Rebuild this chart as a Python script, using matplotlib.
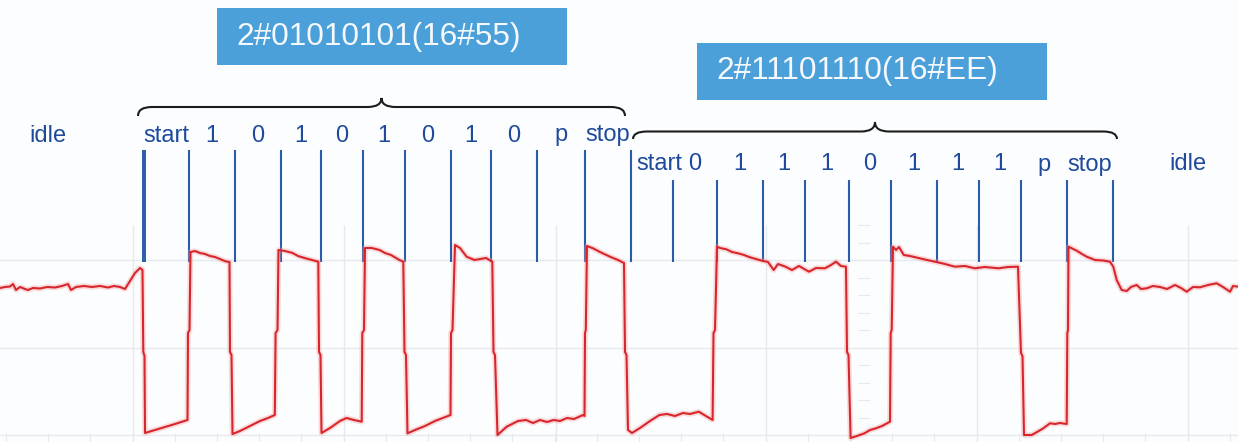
import numpy as np
import matplotlib.pyplot as plt
from matplotlib.patches import Rectangle, PathPatch
from matplotlib.path import Path

plt.rcParams['font.family'] = ['Liberation Sans', 'DejaVu Sans']

# two bytes on the serial line, LSB first, even parity
frame_bytes = [0x55, 0xEE]
frame1_labels = ['start', '1', '0', '1', '0', '1', '0', '1', '0', 'p', 'stop']
frame2_labels = ['start', '0', '1', '1', '1', '0', '1', '1', '1', 'p', 'stop']

# bit boundaries (time axis = screen units)
frame1_edges = [143.5, 188.6, 234.9, 281.1, 320.7, 363.0, 404.9, 450.8,
                490.7, 537.0, 585.2, 630.6]
frame2_edges = [630.6, 672.8, 717.0, 762.7, 804.9, 848.6, 890.8, 936.5,
                978.7, 1020.9, 1067.0, 1112.7]

# scope trace, (time, level) pairs
idle_before = [(0, 288), (5, 287), (10, 286.5), (13, 284), (16, 290), (20, 287),
               (25, 289), (28, 290), (33, 288), (40, 288.5), (47, 287), (55, 287.5),
               (62, 286), (68, 284), (71, 290), (76, 287), (84, 286), (92, 287),
               (100, 286), (108, 287.5), (114, 286), (120, 287), (125, 289),
               (130, 281), (135, 273), (140, 268), (142.5, 270)]
frame1_trace = [(143.3, 352), (144.5, 356), (145, 433), (155, 430), (165, 427),
                (175, 424), (187.5, 420), (188, 333), (189.5, 330), (190.5, 252),
                (195, 251), (200, 253), (205, 254), (210, 256), (215, 257), (220, 259),
                (226, 261.5), (229.5, 262), (230, 352), (231.5, 355), (232.5, 434),
                (240, 431), (250, 426), (260, 421), (268, 418), (274.8, 415),
                (275.6, 333), (277.5, 330), (278.5, 250), (285, 251), (292.6, 253),
                (298, 256), (304.5, 258), (312, 260), (318.3, 261.7), (319, 352),
                (320.5, 355), (321.5, 433), (330, 428), (340, 421), (346.5, 418),
                (354, 420), (361.7, 421.7), (362.3, 333), (364, 330), (365, 248),
                (371.7, 248), (379.6, 250), (385, 253), (391, 255), (399.4, 260),
                (403.3, 261.7), (404.5, 352), (406, 355), (407.5, 433.3), (415, 430),
                (425, 426), (435, 421), (446.7, 416.5), (450.5, 415), (451, 333),
                (452.5, 330), (455, 245), (460, 248), (466.6, 256.7), (474.5, 260),
                (480, 259), (486, 258), (492.3, 261.7), (493.5, 352), (495, 355),
                (497.5, 435), (506.7, 426.7), (512, 424), (518, 421), (526, 420),
                (533, 423), (540, 420), (547, 422), (553.6, 420), (560, 421),
                (567, 418), (574, 419), (583, 415), (584.5, 416), (585, 333),
                (585.8, 330), (587, 246), (593, 248.3), (600, 252), (610, 256.7),
                (618, 260), (624, 263)]
frame2_trace = [(625, 352), (626.5, 355), (628, 430), (632, 433), (640, 428),
                (650, 421), (659.4, 415), (667, 414), (675, 416), (683, 413),
                (690, 414), (698.8, 411.7), (706, 416), (712.6, 420), (713.5, 333),
                (715, 330), (717, 246.7), (720, 248), (726.4, 249.3), (732, 252),
                (738, 253.3), (744, 255), (750, 257.3), (756, 259), (762, 260.7),
                (768, 262), (773.7, 270), (778, 264), (785.5, 266.7), (792, 270),
                (799, 266), (809, 271.7), (816, 268), (825, 268.3), (831, 265),
                (836, 261.7), (841, 266), (846, 266.7), (847, 352), (848.5, 355),
                (850.6, 438), (857, 436), (864.4, 433.3), (870, 430), (876, 428.3),
                (882, 426), (890, 421.7), (890.7, 333), (891.7, 330), (893, 246.7),
                (896, 250), (899, 247), (903.8, 255), (910, 256), (919.6, 258.3),
                (927, 260), (935, 261.7), (945, 264), (955, 266.7), (965, 266),
                (974.8, 268.3), (985, 267), (998.4, 268.3), (1008, 267), (1018, 266.7),
                (1021, 353), (1022.5, 356), (1024, 435), (1031.7, 435), (1037, 432),
                (1043.3, 428.3), (1050, 423.3), (1055, 424), (1060, 423), (1066.7, 424),
                (1067.3, 333), (1068, 330), (1068.5, 246.7), (1076.7, 250.7),
                (1082, 254), (1086.7, 256.7), (1095, 260), (1103, 260.5), (1110, 261.7)]
idle_after = [(1113.3, 266.7), (1116.7, 280), (1121.7, 290), (1126.7, 291),
              (1131, 287), (1136.7, 285), (1141, 289), (1146.7, 288.3), (1153, 286),
              (1160, 287), (1167, 289), (1175, 285), (1181, 288), (1186.7, 291.7),
              (1193, 287), (1200, 287.3), (1208, 285), (1216.7, 283.3), (1223, 287),
              (1230, 291.7), (1233, 286), (1238, 286.7)]

W, H = 1238, 442
fig = plt.figure(figsize=(W / 100, H / 100), dpi=100, facecolor='#fcfdff')
ax = fig.add_axes([0, 0, 1, 1])
ax.set_xlim(0, W)
ax.set_ylim(H, 0)
ax.axis('off')

# scope grid (lower part of the screen only)
grid_col = '#e6e9ee'
ax.hlines([260, 347.5, 435], 0, W, color=grid_col, lw=1, zorder=0)
ax.vlines([132.5, 344, 555.5, 766, 977, 1188], 225, H, color=grid_col, lw=1, zorder=0)
ax.vlines(np.arange(132.5 - 3 * 42.2, W, 42.2), 433, H, color=grid_col, lw=0.8, zorder=0)
ax.hlines(np.arange(225, 436, 17.5), 858, 870, color=grid_col, lw=0.8, zorder=0)

# bit boundary markers
line_col = '#2b5cab'
ax.vlines(frame1_edges[1:], 150, 262, color=line_col, lw=1.5, zorder=1)
ax.vlines(frame1_edges[0], 150, 262, color=line_col, lw=2.8, zorder=1)
ax.vlines(frame2_edges[1:], 180, 262, color=line_col, lw=1.5, zorder=1)

# the trace itself
trace = np.array(idle_before + frame1_trace + frame2_trace + idle_after)
ax.plot(trace[:, 0], trace[:, 1], color='#f19a9a', lw=4, alpha=0.35,
        solid_joinstyle='round', zorder=2)
ax.plot(trace[:, 0], trace[:, 1], color='#d8262c', lw=1.5,
        solid_joinstyle='round', zorder=3)

# bit names
text_col = '#1f4a9c'
for edges, labels, base in [(frame1_edges, frame1_labels, 141.5),
                            (frame2_edges, frame2_labels, 170.5)]:
    for i, lab in enumerate(labels):
        xc = (edges[i] + edges[i + 1]) / 2
        if i == 0 and edges[0] > 600:
            # second start label sits just right of the boundary line
            ax.text(edges[0] + 6, base, lab, ha='left', va='baseline',
                    fontsize=17, color=text_col, zorder=4)
            continue
        ax.text(xc, base, lab, ha='center', va='baseline', fontsize=17,
                color=text_col, zorder=4)
ax.text(48, 141.5, 'idle', ha='center', va='baseline', fontsize=17, color=text_col)
ax.text(1188, 170.5, 'idle', ha='center', va='baseline', fontsize=17, color=text_col)


# curly braces over each frame
def brace(x0, x1, y_end, y_line, y_tip, r=14):
    xm = (x0 + x1) / 2
    verts = [(x0, y_end), (x0, y_line), (x0 + r, y_line),
             (xm - r, y_line),
             (xm, y_line), (xm, y_tip),
             (xm, y_line), (xm + r, y_line),
             (x1 - r, y_line),
             (x1, y_line), (x1, y_end)]
    codes = [Path.MOVETO, Path.CURVE3, Path.CURVE3, Path.LINETO,
             Path.CURVE3, Path.CURVE3, Path.CURVE3, Path.CURVE3,
             Path.LINETO, Path.CURVE3, Path.CURVE3]
    ax.add_patch(PathPatch(Path(verts, codes), fill=False, ec='#1c1c1c',
                           lw=1.5, zorder=4))


brace(138, 625, 116, 107, 98)
brace(633, 1117, 139, 131.5, 122)

# value boxes
box_col = '#4ba0da'
for b, (bx, by) in zip(frame_bytes, [(216.7, 8.3), (696.5, 43)]):
    ax.add_patch(Rectangle((bx, by), 350, 56.5, fc=box_col, ec='none', zorder=4))
    ax.text(bx + 19.5, by + 28.5, f'2#{b:08b}(16#{b:02X})', ha='left', va='center',
            fontsize=22.8, color='#f5f9fd', zorder=5)

fig.savefig('out.png', dpi=100, facecolor=fig.get_facecolor())
